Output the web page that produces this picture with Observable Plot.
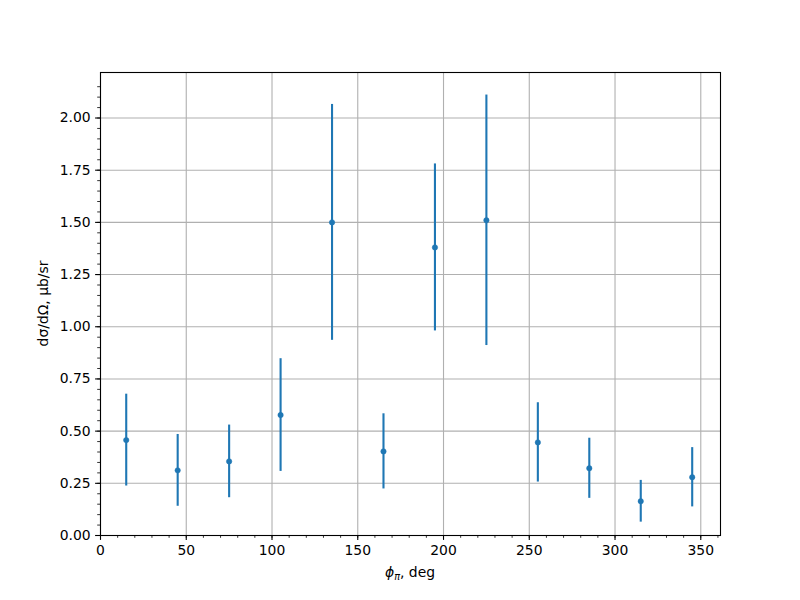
<!DOCTYPE html>
<html><head><meta charset="utf-8">
<script src="https://cdn.jsdelivr.net/npm/d3@7"></script>
<script src="https://cdn.jsdelivr.net/npm/@observablehq/plot@0.6"></script>
<style>body{margin:0;background:#fff} svg{display:block}</style>
</head><body><div id="chart"></div>
<script>
const phi = [15, 45, 75, 105, 135, 165, 195, 225, 255, 285, 315, 345];
const sigma = [0.457, 0.312, 0.355, 0.577, 1.500, 0.403, 1.380, 1.510, 0.446, 0.322, 0.164, 0.279];
const sigmaErr = [0.220, 0.172, 0.174, 0.270, 0.565, 0.180, 0.400, 0.600, 0.190, 0.144, 0.100, 0.142];
const xTicks = [0, 50, 100, 150, 200, 250, 300, 350];
const yTicks = [0, 0.25, 0.5, 0.75, 1.0, 1.25, 1.5, 1.75, 2.0];
const yTickLabels = ["0.00", "0.25", "0.50", "0.75", "1.00", "1.25", "1.50", "1.75", "2.00"];
const xMinor = d3.range(0, 361, 10);
const yMinor = d3.range(0, 2.2, 0.05);

const data = phi.map((p, i) => ({phi: p, y: sigma[i], lo: sigma[i] - sigmaErr[i], hi: sigma[i] + sigmaErr[i]}));

const W = 800, H = 600, ML = 100, MR = 80, MT = 72, MB = 65;
const gridStyle = {stroke: "#b0b0b0", strokeOpacity: 1, strokeWidth: 1.1};

const chart = Plot.plot({
  width: W, height: H,
  marginLeft: ML, marginRight: MR, marginTop: MT, marginBottom: MB,
  x: {domain: [0, 361.5]},
  y: {domain: [0, 2.218]},
  style: {fontFamily: "DejaVu Sans", fontSize: "13.9px", color: "#000", background: "#fff", overflow: "visible"},
  marks: [
    Plot.gridX(xTicks, gridStyle),
    Plot.gridY(yTicks, gridStyle),
    Plot.ruleX(data, {x: "phi", y1: "lo", y2: "hi", stroke: "#1f77b4", strokeWidth: 2.1}),
    Plot.dot(data, {x: "phi", y: "y", r: 2.7, fill: "#1f77b4", stroke: "#1f77b4", strokeWidth: 0.5}),
    Plot.frame({stroke: "#000", strokeWidth: 1.1}),
    Plot.axisX(xMinor, {tickSize: 2.8, tickFormat: () => "", label: null, strokeWidth: 0.8}),
    Plot.axisY(yMinor, {tickSize: 2.8, tickFormat: () => "", label: null, strokeWidth: 0.8}),
    Plot.axisX(xTicks, {tickSize: 4.9, tickPadding: 4.9, label: null, tickFormat: d => String(d), strokeWidth: 1.1, fontSize: 13.9}),
    Plot.axisY(yTicks, {tickSize: 4.9, tickPadding: 4.9, label: null, tickFormat: (d, i) => yTickLabels[i], strokeWidth: 1.1, fontSize: 13.9})
  ]
});

const svg = d3.select(chart);
// x label
const xl = svg.append("text")
  .attr("x", ML + (W - ML - MR) / 2).attr("y", 577)
  .attr("text-anchor", "middle")
  .attr("font-family", "DejaVu Sans").attr("font-size", "13.9px").attr("fill", "#000");
xl.append("tspan").attr("font-style", "italic").text("ϕ");
xl.append("tspan").attr("font-style", "italic").attr("font-size", "9.7px").attr("dy", "3").text("π");
xl.append("tspan").attr("dy", "-3").text(", deg");
// y label
svg.append("text")
  .attr("transform", `translate(48,${MT + (H - MT - MB) / 2}) rotate(-90)`)
  .attr("text-anchor", "middle")
  .attr("font-family", "DejaVu Sans").attr("font-size", "13.9px").attr("fill", "#000")
  .text("dσ/dΩ, μb/sr");

document.getElementById("chart").appendChild(chart);
</script>
</body></html>
